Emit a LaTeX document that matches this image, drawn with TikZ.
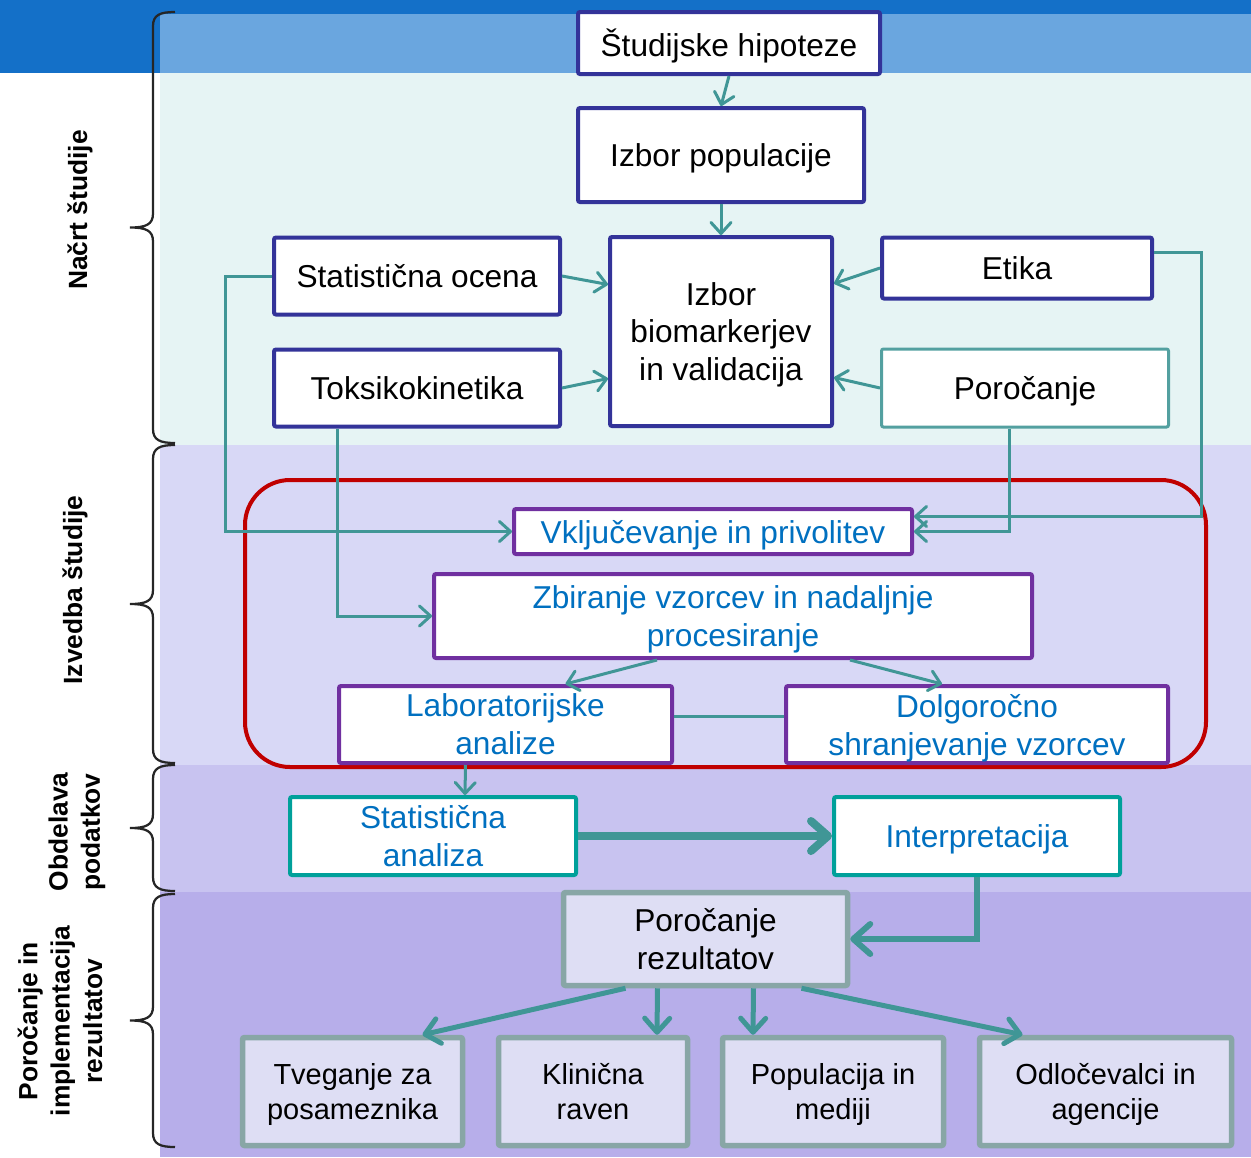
\documentclass[tikz,border=0pt]{standalone}
\usepackage{fontspec}
\setmainfont{Liberation Sans}
\usepackage{tikz}
\usetikzlibrary{arrows.meta}
\usetikzlibrary{calc}
\definecolor{navy}{HTML}{333399}
\definecolor{lila}{HTML}{7030A0}
\definecolor{tealline}{HTML}{409696}
\definecolor{tealbox}{HTML}{00A09A}
\definecolor{tealgrey}{HTML}{88A6A6}
\definecolor{txtblue}{HTML}{0070C0}
\definecolor{redline}{HTML}{C00000}
\definecolor{bgtop}{HTML}{1470C8}
\definecolor{bgtoplight}{HTML}{6AA6DF}
\definecolor{bgcyan}{HTML}{E6F4F4}
\definecolor{bglila}{HTML}{D8D8F6}
\definecolor{bglilb}{HTML}{C8C3F0}
\definecolor{bglilc}{HTML}{B7AEEA}
\definecolor{boxlila}{HTML}{DEDEF4}
\newcommand{\thinarrow}{-{Straight Barb[round,length=2.2mm,width=4mm]}}
\newcommand{\fatarrow}{-{Straight Barb[round,length=3.4mm,width=6mm]}}
\newcommand{\midarrow}{-{Straight Barb[round,length=2.8mm,width=5mm]}}
% curly bracket on the left, #1 = top, #2 = bottom (in px)
\newcommand{\phasebrace}[2]{%
  \draw[line width=0.45mm,black!85] (175,#1) .. controls (160,#1) and (153,#1+3) .. (153,#1+14)
    -- (153,{(#1+#2)/2-14}) .. controls (153,{(#1+#2)/2-3}) and (146,{(#1+#2)/2}) .. (130,{(#1+#2)/2})
    .. controls (146,{(#1+#2)/2}) and (153,{(#1+#2)/2+3}) .. (153,{(#1+#2)/2+14})
    -- (153,#2-14) .. controls (153,#2-3) and (160,#2) .. (175,#2);}
\tikzset{
  sz/.style 2 args={minimum width=#1*0.2mm, minimum height=#2*0.2mm},
  basebox/.style={fill=white, rounded corners=0.4mm, align=center, inner sep=0pt,
    text depth=0pt, font=\fontsize{18}{21.6}\selectfont},
  navybox/.style={basebox, draw=navy, line width=0.8mm},
  tealthin/.style={basebox, draw=tealline!90, line width=0.6mm},
  lilabox/.style={basebox, draw=lila, line width=0.8mm, text=txtblue},
  datbox/.style={basebox, draw=tealbox, line width=0.8mm, text=txtblue},
  outbox/.style={basebox, draw=tealgrey, fill=boxlila, line width=1.1mm,
    font=\fontsize{16.5}{20}\selectfont},
  phase/.style={rotate=90, align=center, font=\fontsize{15}{18.4}\selectfont\bfseries},
  conn/.style={draw=tealline, line width=0.6mm},
}
\begin{document}
\begin{tikzpicture}[x=0.2mm,y=-0.2mm]
\useasboundingbox (0,0) rectangle (1251,1157);
% background bands
\fill[bgtop] (0,0) rectangle (1251,73);
\fill[bgtoplight] (160,14) rectangle (1251,73);
\fill[bgcyan] (160,73) rectangle (1251,445);
\fill[bglila] (160,445) rectangle (1251,765);
\fill[bglilb] (160,765) rectangle (1251,892);
\fill[bglilc] (160,892) rectangle (1251,1157);

% phases
\phasebrace{12}{443}
\phasebrace{445}{763}
\phasebrace{765}{891}
\phasebrace{894}{1147}
\node[phase] (nacrt) at (80,210) {Načrt študije};
\node[phase] (izvedba) at (75,590) {Izvedba študije};
\node[phase] (obdelava) at (77,832) {Obdelava\\podatkov};
\node[phase] (porocanje) at (60,1021) {Poročanje in\\implementacija\\rezultatov};

% sample collection frame
\draw[redline, line width=0.8mm, rounded corners=9mm] (245,480) rectangle (1206,767);

% study design
\node[navybox, sz={302}{62}] (hyp) at (729,43) {Študijske hipoteze};
\node[navybox, sz={286}{94}] (pop) at (721,155) {Izbor populacije};
\node[navybox, sz={222}{189}] (bio) at (721,331.5) {Izbor\\biomarkerjev\\in validacija};
\node[navybox, sz={286}{77}] (stat) at (417,276) {Statistična ocena};
\node[navybox, sz={286}{77}] (tok) at (417,388) {Toksikokinetika};
\node[navybox, sz={270}{61}] (eti) at (1017,268) {Etika};
\node[tealthin, sz={287}{78}] (por) at (1025,388) {Poročanje};

% study conduct
\node[lilabox, sz={398}{45}] (vkl) at (713,531.5) {Vključevanje in privolitev};
\node[lilabox, sz={598}{84}] (zbi) at (733,616) {Zbiranje vzorcev in nadaljnje\\procesiranje};
\node[lilabox, sz={333}{77}] (lab) at (505.5,724.5) {Laboratorijske\\analize};
\node[lilabox, sz={382}{77}] (dol) at (977,724.5) {Dolgoročno\\shranjevanje vzorcev};

% data
\node[datbox, sz={286}{78}] (san) at (433,836) {Statistična\\analiza};
\node[datbox, sz={286}{78}] (int) at (977,836) {Interpretacija};

% results
\node[outbox, sz={284}{93}, font=\fontsize{18}{21.6}\selectfont] (rez) at (705.5,939) {Poročanje\\rezultatov};
\node[outbox, sz={220}{108}] (tve) at (352.5,1091.5) {Tveganje za\\posameznika};
\node[outbox, sz={189}{108}] (kli) at (593,1091.5) {Klinična\\raven};
\node[outbox, sz={221}{108}] (popm) at (833,1091.5) {Populacija in\\mediji};
\node[outbox, sz={252}{108}] (odl) at (1105.5,1091.5) {Odločevalci in\\agencije};

% connectors
\draw[conn,\thinarrow] (hyp.south) -- (pop.north);
\draw[conn,\thinarrow] (pop.south) -- (bio.north);
\draw[conn,\thinarrow] (stat.east) -- ($(bio.west)+(0,-47)$);
\draw[conn,\thinarrow] (tok.east) -- ($(bio.west)+(0,47)$);
\draw[conn,\thinarrow] (eti.west) -- ($(bio.east)+(0,-48)$);
\draw[conn,\thinarrow] (por.west) -- ($(bio.east)+(0,46)$);
\draw[conn,\thinarrow] (stat.west) -- ++(-47,0) |- (vkl.west);
\draw[conn,\thinarrow] ($(tok.south)+(-80,0)$) |- (zbi.west);
\draw[conn,\thinarrow] ($(eti.east)+(0,-16)$) -- ++(47,0) |- ($(vkl.east)+(0,-15)$);
\draw[conn,\thinarrow] ($(por.south)+(-16,0)$) |- (vkl.east);
\draw[conn,\thinarrow] ($(zbi.south)+(-76,0)$) -- ($(lab.north)+(60,0)$);
\draw[conn,\thinarrow] ($(zbi.south)+(117,0)$) -- ($(dol.north)+(-35,0)$);
\draw[conn] ($(lab.east)+(0,-8)$) -- ($(dol.west)+(0,-8)$);
\draw[conn,\thinarrow] ($(lab.south)+(-40,0)$) -- ($(san.north)+(32,0)$);
\draw[conn,line width=1.6mm,\fatarrow] (san.east) -- (int.west);
\draw[conn,line width=1.2mm,\fatarrow] (int.south) |- (rez.east);
\draw[conn,line width=1mm,\midarrow] ($(rez.south)+(-80,0)$) -- ($(tve.north)+(70,0)$);
\draw[conn,line width=1mm,\midarrow] ($(rez.south)+(-48,0)$) -- ($(kli.north)+(64,0)$);
\draw[conn,line width=1mm,\midarrow] ($(rez.south)+(48,0)$) -- ($(popm.north)+(-80,0)$);
\draw[conn,line width=1mm,\midarrow] ($(rez.south)+(96,0)$) -- ($(odl.north)+(-83,0)$);
\end{tikzpicture}
\end{document}
